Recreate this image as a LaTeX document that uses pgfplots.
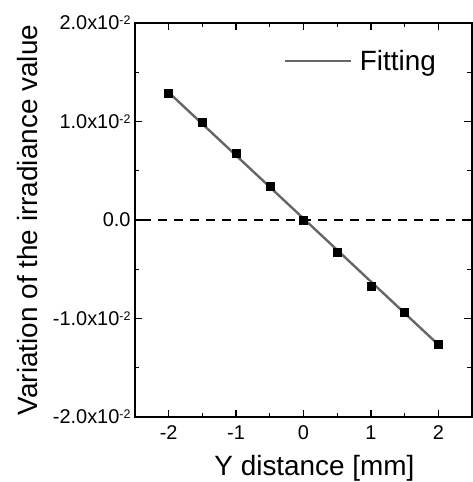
\documentclass[border=0pt]{standalone}
\usepackage{pgfplots}
\pgfplotsset{compat=1.18}
\usepackage{fontspec}
\setmainfont{Liberation Sans}
\newcommand{\sups}[1]{\raisebox{5bp}{\fontsize{12.5}{13}\selectfont #1}}
\begin{document}
\begin{tikzpicture}
\begin{axis}[
  scale only axis,
  width=337bp, height=394bp,
  xmin=-2.5, xmax=2.5,
  ymin=-0.02, ymax=0.02,
  xtick={-2,-1,0,1,2},
  xticklabels={-2,-1,0,1,2},
  minor x tick num=1,
  ytick={-0.02,-0.01,0,0.01,0.02},
  yticklabels={-2.0x10\sups{-2},-1.0x10\sups{-2},0.0,1.0x10\sups{-2},2.0x10\sups{-2}},
  minor y tick num=1,
  scaled y ticks=false,
  tick align=inside,
  major tick length=7.5bp,
  minor tick length=4.5bp,
  every tick/.style={black, line width=1.3bp},
  axis line style={line width=1.6bp},
  tick label style={font=\fontsize{20}{22}\selectfont},
  xticklabel style={yshift=-5bp},
  yticklabel style={xshift=-1bp},
  xlabel={Y distance [mm]},
  ylabel={Variation of the irradiance value},
  xlabel style={font=\fontsize{28}{30}\selectfont, at={(axis description cs:0.5326,-0.0964)}, anchor=north, inner sep=0pt},
  ylabel style={font=\fontsize{28}{30}\selectfont, at={(axis description cs:-0.3501,0.5)}, anchor=north, inner sep=0pt},
  /pgf/number format/assume math mode=true,
  legend style={draw=none, fill=none, inner sep=0pt, nodes={inner sep=0pt},
    at={(rel axis cs:1,1)}, anchor=north east, xshift=-36bp, yshift=-27bp,
    font=\fontsize{28}{30}\selectfont},
  legend image code/.code={\draw[#1] (0bp,0bp) -- (66bp,0bp);},
  legend cell align=left,
  clip=false,
]
\addplot[black, line width=1.3bp, dash pattern=on 9bp off 7bp, forget plot] coordinates {(-2.4,0) (2.5,0)};
\addplot[only marks, mark=square*, mark size=4bp, black, forget plot] coordinates {
(-2,0.01292) (-1.5,0.00997) (-1,0.00675) (-0.5,0.00339) (0,0.0) (0.5,-0.00329) (1,-0.00668) (1.5,-0.0094) (2,-0.01259)
};
\addplot[color=black!60, line width=2.4bp] coordinates {(-2,0.01295) (2,-0.01265)};
\addlegendentry{\hspace{8bp}Fitting}
\end{axis}
\path ([xshift=-135bp,yshift=23bp]current axis.north west) rectangle ([xshift=1bp,yshift=-65bp]current axis.south east);
\end{tikzpicture}
\end{document}
